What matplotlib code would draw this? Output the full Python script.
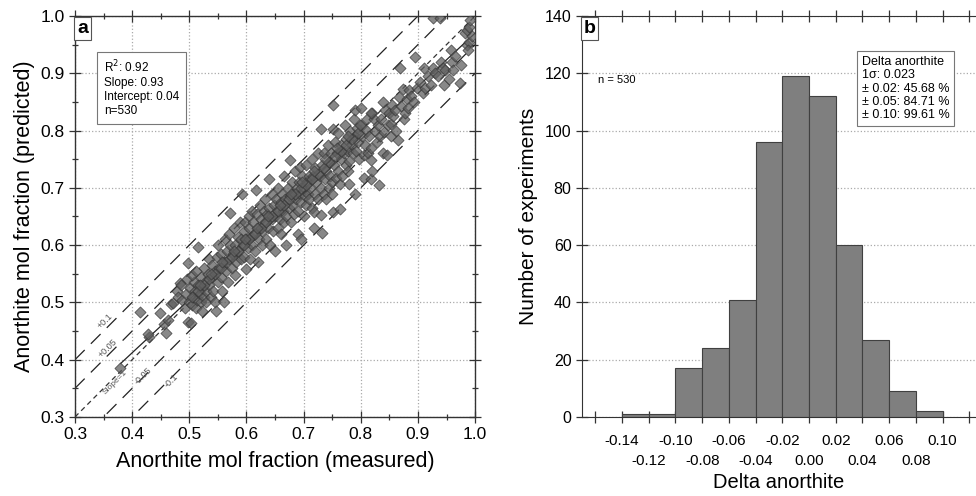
import numpy as np
import matplotlib.pyplot as plt
from matplotlib.ticker import MultipleLocator, FixedLocator, FixedFormatter

plt.rcParams['font.family'] = ['Liberation Sans', 'DejaVu Sans']

# ---- panel a: measured vs predicted anorthite (estimated from figure) ----
meas = [0.379, 0.414, 0.43, 0.428, 0.449, 0.455, 0.46, 0.462, 0.468,
        0.472, 0.478, 0.484, 0.48, 0.488, 0.486,
        0.492, 0.495, 0.498, 0.503, 0.498, 0.5, 0.502, 0.505, 0.507, 0.509, 0.51, 0.496, 0.504,
        0.512, 0.514, 0.516, 0.515, 0.518, 0.52, 0.52, 0.522, 0.525, 0.526, 0.528, 0.53, 0.53, 0.512, 0.523,
        0.532, 0.535, 0.535, 0.538, 0.54, 0.54, 0.542, 0.545, 0.545, 0.547, 0.548, 0.55, 0.55,
        0.552, 0.555, 0.556, 0.558, 0.56, 0.56, 0.562, 0.565, 0.566, 0.568, 0.57, 0.571, 0.57,
        0.572, 0.575, 0.576, 0.578, 0.58, 0.58, 0.582, 0.585, 0.586, 0.588, 0.59, 0.592, 0.59,
        0.594, 0.595, 0.596, 0.598, 0.6, 0.6, 0.602, 0.604, 0.605, 0.606, 0.608, 0.61, 0.61,
        0.612, 0.614, 0.615, 0.617, 0.618, 0.62, 0.62, 0.622, 0.624, 0.625, 0.627, 0.628, 0.63,
        0.632, 0.633, 0.635, 0.636, 0.638, 0.64, 0.64, 0.642, 0.644, 0.645, 0.646, 0.648, 0.65, 0.65,
        0.652, 0.654, 0.655, 0.656, 0.658, 0.66, 0.66, 0.662, 0.664, 0.665, 0.666, 0.668, 0.67, 0.67,
        0.672, 0.674, 0.676, 0.676, 0.678, 0.68, 0.68, 0.682, 0.684, 0.685, 0.686, 0.688, 0.69, 0.69,
        0.692, 0.693, 0.694, 0.695, 0.696, 0.698, 0.7, 0.7, 0.702, 0.704, 0.705, 0.706, 0.708, 0.71, 0.71,
        0.712, 0.714, 0.715, 0.716, 0.718, 0.718, 0.72, 0.72, 0.722, 0.725, 0.726, 0.728, 0.73, 0.73, 0.73,
        0.732, 0.733, 0.735, 0.736, 0.738, 0.74, 0.74, 0.742, 0.744, 0.745, 0.746, 0.748, 0.75, 0.75,
        0.752, 0.752, 0.752, 0.754, 0.755, 0.757, 0.758, 0.76, 0.76, 0.763, 0.764, 0.765, 0.766, 0.768, 0.77,
        0.772, 0.774, 0.775, 0.777, 0.778, 0.78, 0.78, 0.782, 0.784, 0.786, 0.788, 0.79, 0.79, 0.79,
        0.792, 0.794, 0.795, 0.797, 0.8, 0.8, 0.802, 0.805, 0.805, 0.807, 0.81, 0.81,
        0.812, 0.815, 0.817, 0.817, 0.818, 0.82, 0.82, 0.823, 0.825, 0.828, 0.83,
        0.831, 0.833, 0.835, 0.838, 0.84, 0.842, 0.845, 0.847, 0.85,
        0.852, 0.852, 0.855, 0.857, 0.86, 0.862, 0.865, 0.867, 0.87, 0.869,
        0.873, 0.875, 0.878, 0.88, 0.883, 0.885, 0.888,
        0.895, 0.893, 0.898, 0.904, 0.91, 0.908,
        0.912, 0.918, 0.922, 0.927, 0.927, 0.929,
        0.939, 0.94, 0.935, 0.944, 0.948, 0.945,
        0.955, 0.96, 0.958, 0.965, 0.962,
        0.974, 0.975, 0.982, 0.985, 0.985, 0.99, 0.99, 0.991, 0.995, 0.988,
        # extra points filling the dense core
        0.505, 0.515, 0.525, 0.535, 0.545, 0.555, 0.565, 0.575, 0.585, 0.595,
        0.605, 0.615, 0.625, 0.635, 0.645, 0.655, 0.665, 0.675, 0.685, 0.695,
        0.705, 0.715, 0.725, 0.735, 0.745, 0.755, 0.765, 0.775, 0.785, 0.795,
        0.518, 0.538, 0.558, 0.578, 0.598, 0.618, 0.638, 0.658, 0.678, 0.698,
        0.718, 0.738, 0.758, 0.778, 0.798, 0.818, 0.838]
pred = [0.386, 0.483, 0.44, 0.445, 0.481, 0.463, 0.447, 0.47, 0.497,
        0.499, 0.52, 0.534, 0.51, 0.505, 0.53,
        0.49, 0.515, 0.466, 0.464, 0.569, 0.5, 0.525, 0.495, 0.51, 0.535, 0.52, 0.54, 0.548,
        0.49, 0.505, 0.597, 0.53, 0.515, 0.5, 0.545, 0.525, 0.51, 0.56, 0.535, 0.5, 0.52, 0.555, 0.485,
        0.55, 0.575, 0.53, 0.51, 0.545, 0.565, 0.52, 0.5, 0.555, 0.485, 0.58, 0.535, 0.6,
        0.56, 0.545, 0.585, 0.52, 0.5, 0.57, 0.61, 0.555, 0.59, 0.535, 0.575, 0.656, 0.62,
        0.6, 0.56, 0.585, 0.63, 0.547, 0.6, 0.57, 0.615, 0.59, 0.64, 0.575, 0.69, 0.61,
        0.6, 0.625, 0.58, 0.64, 0.558, 0.61, 0.595, 0.65, 0.63, 0.575, 0.615, 0.6, 0.66,
        0.64, 0.62, 0.59, 0.697, 0.655, 0.57, 0.63, 0.61, 0.67, 0.645, 0.6, 0.625, 0.66,
        0.64, 0.68, 0.61, 0.655, 0.63, 0.715, 0.665, 0.6, 0.645, 0.69, 0.625, 0.67, 0.65, 0.59,
        0.68, 0.66, 0.63, 0.7, 0.645, 0.675, 0.62, 0.69, 0.66, 0.64, 0.72, 0.68, 0.65, 0.6,
        0.7, 0.665, 0.749, 0.685, 0.64, 0.71, 0.67, 0.69, 0.655, 0.73, 0.68, 0.7, 0.66, 0.62,
        0.71, 0.737, 0.69, 0.61, 0.675, 0.72, 0.7, 0.65, 0.685, 0.74, 0.67, 0.71, 0.69, 0.68, 0.72,
        0.7, 0.75, 0.665, 0.72, 0.657, 0.63, 0.69, 0.735, 0.71, 0.76, 0.68, 0.72, 0.652, 0.803, 0.7,
        0.621, 0.74, 0.69, 0.76, 0.715, 0.73, 0.68, 0.775, 0.7, 0.745, 0.72, 0.76, 0.71, 0.69,
        0.657, 0.845, 0.803, 0.74, 0.78, 0.717, 0.76, 0.73, 0.795, 0.706, 0.663, 0.75, 0.775, 0.72, 0.76,
        0.81, 0.74, 0.785, 0.765, 0.73, 0.706, 0.746, 0.8, 0.775, 0.76, 0.82, 0.69, 0.836, 0.79,
        0.765, 0.805, 0.78, 0.75, 0.84, 0.81, 0.79, 0.757, 0.718, 0.775, 0.82, 0.8,
        0.76, 0.79, 0.715, 0.77, 0.748, 0.73, 0.83, 0.82, 0.8, 0.78, 0.81,
        0.705, 0.79, 0.82, 0.76, 0.797, 0.835, 0.757, 0.81, 0.83,
        0.79, 0.812, 0.845, 0.825, 0.836, 0.8, 0.784, 0.858, 0.843, 0.909,
        0.872, 0.82, 0.83, 0.855, 0.84, 0.87, 0.86,
        0.928, 0.85, 0.875, 0.885, 0.91, 0.865,
        0.874, 0.895, 0.88, 0.91, 0.996, 0.9,
        0.996, 0.92, 0.895, 0.91, 0.905, 0.88,
        0.89, 0.92, 0.94, 0.93, 0.905,
        0.883, 0.915, 0.97, 0.95, 0.975, 0.955, 0.98, 0.993, 0.965, 0.94,
        0.51, 0.52, 0.53, 0.54, 0.55, 0.56, 0.57, 0.58, 0.59, 0.6,
        0.61, 0.62, 0.63, 0.64, 0.65, 0.66, 0.67, 0.68, 0.69, 0.7,
        0.705, 0.715, 0.725, 0.735, 0.745, 0.755, 0.765, 0.775, 0.785, 0.795,
        0.53, 0.55, 0.57, 0.59, 0.61, 0.63, 0.65, 0.67, 0.69, 0.71,
        0.73, 0.75, 0.77, 0.79, 0.81, 0.83, 0.85]

offsets = [0.1, 0.05, -0.05, -0.1]
offset_labels = ['+0.1', '+0.05', '-0.05', '-0.1']
slope, intercept = 0.93, 0.04

# ---- panel b: histogram of delta anorthite ----
bin_edges = [-0.14, -0.12, -0.10, -0.08, -0.06, -0.04, -0.02, 0.0,
             0.02, 0.04, 0.06, 0.08, 0.10]
counts = [1, 1, 17, 24, 41, 96, 119, 112, 60, 27, 9, 2]
row1_ticks = [-0.14, -0.10, -0.06, -0.02, 0.02, 0.06, 0.10]
row1_labels = ['-0.14', '-0.10', '-0.06', '-0.02', '0.02', '0.06', '0.10']
row2_ticks = [-0.16, -0.12, -0.08, -0.04, 0.0, 0.04, 0.08, 0.12]
row2_labels = ['', '-0.12', '-0.08', '-0.04', '0.00', '0.04', '0.08', '']

fig = plt.figure(figsize=(9.76, 4.96), dpi=100)
ax1 = fig.add_axes([0.0768, 0.1593, 0.41, 0.8085])
ax2 = fig.add_axes([0.5963, 0.1593, 0.4037, 0.8085])

# panel a
ax1.set_xlim(0.3, 1.0)
ax1.set_ylim(0.3, 1.0)
ax1.grid(True, ls=':', color='#aaaaaa', lw=0.9)
ax1.set_axisbelow(True)
xx = np.array([0.3, 1.0])
for off in offsets:
    ax1.plot(xx, xx + off, color='#222222', lw=0.9, dashes=(11, 7))
ax1.plot(xx, xx, color='#333333', lw=0.9, dashes=(4, 3))
ax1.plot([0.38, 1.0], [slope * 0.38 + intercept, slope * 1.0 + intercept], color='#222222', lw=0.9)
ax1.scatter(meas, pred, marker='D', s=32, facecolor='#606060', edgecolor='#333333',
            linewidths=0.6, alpha=0.75, zorder=3)
lab_pos = [(0.352, 0.467), (0.357, 0.42), (0.42, 0.372), (0.468, 0.364)]
for (lx, ly), t in zip(lab_pos, offset_labels):
    ax1.text(lx, ly, t, rotation=45, fontsize=6.5, color='#555555', ha='center', va='center')
ax1.text(0.37, 0.36, 'Slope=1', rotation=45, fontsize=6, color='#555555', ha='center', va='center')

ax1.xaxis.set_major_locator(MultipleLocator(0.1))
ax1.yaxis.set_major_locator(MultipleLocator(0.1))
ax1.xaxis.set_minor_locator(MultipleLocator(0.05))
ax1.yaxis.set_minor_locator(MultipleLocator(0.05))
ax1.tick_params(which='both', direction='inout', top=True, right=True, labelsize=12.5,
                color='#333333', width=0.9)
ax1.tick_params(which='major', length=8)
ax1.tick_params(which='minor', length=5)
ax1.xaxis.set_major_formatter(plt.FuncFormatter(lambda v, p: f'{v:.1f}'))
ax1.yaxis.set_major_formatter(plt.FuncFormatter(lambda v, p: f'{v:.1f}'))
ax1.set_xlabel('Anorthite mol fraction (measured)', fontsize=15.5, labelpad=6)
ax1.set_ylabel('Anorthite mol fraction (predicted)', fontsize=15.5, labelpad=4)
for sp in ax1.spines.values():
    sp.set_color('#333333')
    sp.set_linewidth(1.0)
ax1.text(0.006, 0.99, 'a', transform=ax1.transAxes, fontsize=14, fontweight='bold',
         va='top', ha='left',
         bbox=dict(boxstyle='square,pad=0.15', fc='white', ec='#555555', lw=0.8))
ax1.text(0.072, 0.893, 'R$^2$: 0.92\nSlope: 0.93\nIntercept: 0.04\nn=530',
         transform=ax1.transAxes, fontsize=8.5, va='top', ha='left', linespacing=1.2,
         bbox=dict(boxstyle='square,pad=0.6', fc='white', ec='#777777', lw=0.8))

# panel b
ax2.set_xlim(-0.17, 0.125)
ax2.set_ylim(0, 140)
ax2.grid(True, axis='y', ls=':', color='#aaaaaa', lw=0.9)
ax2.set_axisbelow(True)
ax2.hist(bin_edges[:-1], bins=bin_edges, weights=counts, color='#7f7f7f',
         edgecolor='#404040', linewidth=0.8)
ax2.xaxis.set_major_locator(FixedLocator(row1_ticks))
ax2.xaxis.set_major_formatter(FixedFormatter(row1_labels))
ax2.xaxis.set_minor_locator(FixedLocator(row2_ticks))
ax2.xaxis.set_minor_formatter(FixedFormatter(row2_labels))
ax2.yaxis.set_major_locator(MultipleLocator(20))
ax2.tick_params(which='both', direction='inout', top=True, right=False, length=8,
                color='#333333', width=0.9)
ax2.tick_params(axis='y', labelsize=11.5)
ax2.tick_params(axis='x', which='major', labelsize=11, pad=8)
ax2.tick_params(axis='x', which='minor', labelsize=11, pad=23)
ax2.spines['right'].set_visible(False)
for sp in ['left', 'top', 'bottom']:
    ax2.spines[sp].set_color('#333333')
ax2.set_xlabel('Delta anorthite', fontsize=14.5, labelpad=3)
ax2.set_ylabel('Number of experiments', fontsize=15, labelpad=5)
ax2.text(0.004, 0.99, 'b', transform=ax2.transAxes, fontsize=14, fontweight='bold',
         va='top', ha='left',
         bbox=dict(boxstyle='square,pad=0.15', fc='white', ec='#555555', lw=0.8))
ax2.text(0.04, 0.84, 'n = 530', transform=ax2.transAxes, fontsize=8, va='center')
ax2.text(0.71, 0.9, 'Delta anorthite\n1\u03c3: 0.023\n\u00b1 0.02: 45.68 %\n'
         '\u00b1 0.05: 84.71 %\n\u00b1 0.10: 99.61 %',
         transform=ax2.transAxes, fontsize=9, va='top', ha='left', linespacing=1.15,
         bbox=dict(boxstyle='square,pad=0.4', fc='white', ec='#777777', lw=0.8))

fig.savefig('out.png', dpi=100)
